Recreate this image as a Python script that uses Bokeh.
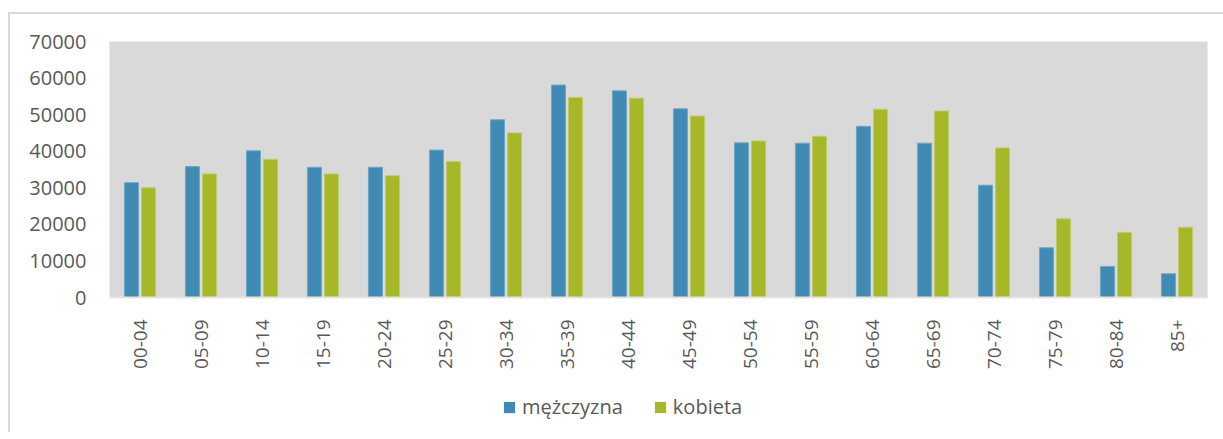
from bokeh.plotting import figure
from bokeh.layouts import column
from bokeh.models import FactorRange, Legend, LegendItem, Range1d, FixedTicker
from bokeh.transform import dodge
from bokeh.embed import file_html
from bokeh.resources import INLINE
import math

categories = ["00-04", "05-09", "10-14", "15-19", "20-24", "25-29", "30-34", "35-39", "40-44",
              "45-49", "50-54", "55-59", "60-64", "65-69", "70-74", "75-79", "80-84", "85+"]
men = [31400, 35800, 40100, 35600, 35600, 40300, 48600, 58100, 56500,
       51600, 42300, 42200, 46800, 42200, 30700, 13600, 8500, 6500]
women = [30000, 33800, 37800, 33800, 33300, 37200, 45000, 54700, 54500,
         49600, 42800, 44100, 51500, 51000, 40900, 21500, 17800, 19200]
y_ticks = [0, 10000, 20000, 30000, 40000, 50000, 60000, 70000]
series_names = ["mężczyzna", "kobieta"]

FONT = "Open Sans"
TXT = "#595959"
BLUE = "#418AB3"
GREEN = "#A6B727"
BLUE_EDGE = "#6ea7c8"
GREEN_EDGE = "#bfcc6a"

p = figure(x_range=FactorRange(*categories, range_padding=0), y_range=Range1d(0, 70000),
           width=1213, height=358, output_backend="svg", toolbar_location=None,
           min_border_left=99, min_border_top=27, min_border_right=16, min_border_bottom=75)
p.background_fill_color = "#D9D9D9"
p.border_fill_color = "white"
p.outline_line_color = None

src = dict(cat=categories, men=men, women=women)
p.vbar(x=dodge("cat", -0.14, range=p.x_range), top="men", width=0.23, source=src,
       fill_color=BLUE, line_color=BLUE_EDGE, line_width=1)
p.vbar(x=dodge("cat", 0.14, range=p.x_range), top="women", width=0.23, source=src,
       fill_color=GREEN, line_color=GREEN_EDGE, line_width=1)

p.xgrid.visible = False
p.ygrid.visible = False

p.yaxis.ticker = FixedTicker(ticks=y_ticks)
p.yaxis.axis_line_color = None
p.yaxis.major_tick_line_color = None
p.yaxis.minor_tick_line_color = None
p.yaxis.major_label_text_font = FONT
p.yaxis.major_label_text_font_size = "20px"
p.yaxis.major_label_text_color = TXT
p.yaxis.major_label_standoff = 17

p.xaxis.axis_line_color = "#e4e4e4"
p.xaxis.axis_line_width = 2
p.xaxis.major_tick_line_color = None
p.xaxis.minor_tick_line_color = None
p.xaxis.major_label_orientation = math.pi / 2
p.xaxis.major_label_text_font = FONT
p.xaxis.major_label_text_font_size = "19px"
p.xaxis.major_label_text_color = TXT
p.xaxis.major_label_standoff = 16

# legend strip: the same series with zero-width bars, only their legend entries show
lg = figure(width=1213, height=60, output_backend="svg", toolbar_location=None,
            x_range=FactorRange(*categories), y_range=Range1d(-2, -1),
            x_axis_type=None, y_axis_type=None,
            min_border_left=0, min_border_right=0, min_border_top=0, min_border_bottom=0)
lg.outline_line_color = None
lg.xgrid.visible = False
lg.ygrid.visible = False
lg.background_fill_color = "white"
lg.border_fill_color = "white"
e1 = lg.vbar(x="cat", top="men", width=0, source=src, fill_color=BLUE, line_color=None)
e2 = lg.vbar(x="cat", top="women", width=0, source=src, fill_color=GREEN, line_color=None)

legend = Legend(items=[LegendItem(label=series_names[0], renderers=[e1]),
                       LegendItem(label=series_names[1], renderers=[e2])],
                orientation="horizontal", location=(393, 12))
legend.label_text_font = FONT
legend.label_text_font_size = "20px"
legend.label_text_color = TXT
legend.glyph_width = 14
legend.glyph_height = 14
legend.label_standoff = 6
legend.spacing = 30
legend.padding = 0
legend.margin = 0
legend.border_line_color = None
legend.background_fill_alpha = 0
lg.add_layout(legend, "center")

layout = column(p, lg, spacing=0, margin=(12, 0, 0, 8))
layout.styles = {"border-left": "2px solid #d9d9d9", "border-top": "2px solid #d9d9d9"}
open("out.html", "w").write(file_html(layout, INLINE))
